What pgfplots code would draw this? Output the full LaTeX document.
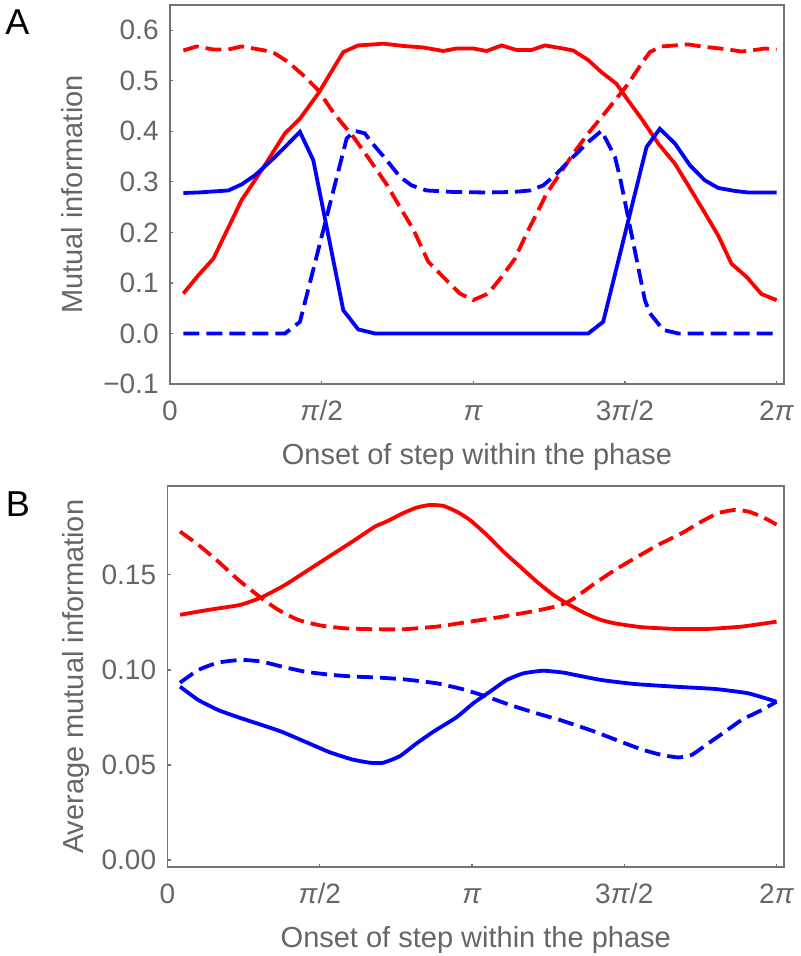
\documentclass[border=0pt]{standalone}
\usepackage{fontspec}
\setmainfont{Liberation Sans}
\usepackage{pgfplots}
\pgfplotsset{compat=1.18}
\definecolor{txtgray}{gray}{0.4}
\definecolor{framegray}{gray}{0.45}
\definecolor{mred}{rgb}{1,0,0}
\definecolor{mblue}{rgb}{0,0,1}

\pgfplotsset{
  panel/.style={
    scale only axis,
    xmin=0, xmax=6.36,
    axis line style={framegray, line width=0.9pt},
    tick style={framegray, line width=0.6pt},
    tick align=inside, tick pos=left, major tick length=1.5pt,
    xtick={0,1.5708,3.14159,4.71239,6.28319},
    xticklabels={0,\textit{π}/2,\textit{π},3\textit{π}/2,2\textit{π}},
    tick label style={font=\fontsize{14}{16}\selectfont, text=txtgray, inner sep=0pt},
    xticklabel style={anchor=base, yshift=-18pt},
    yticklabel style={anchor=east, xshift=-5.5pt},
    xlabel={Onset of step within the phase},
    every axis x label/.style={at={(axis description cs:0.5,0)}, anchor=base, yshift=-40pt,
      font=\fontsize{14.5}{17}\selectfont, text=txtgray, inner sep=0pt},
  },
  ylab/.style={every axis y label/.style={at={(axis description cs:#1,0.5)}, anchor=base, rotate=90,
      font=\fontsize{14.5}{17}\selectfont, text=txtgray, inner sep=0pt}},
  sol/.style={line width=1.9pt},
  dsh/.style={line width=1.9pt, dash pattern=on 8pt off 3.5pt},
}

\begin{document}
\begin{tikzpicture}
\useasboundingbox (0,0) rectangle (400pt,-478pt);

% panel A
\begin{axis}[panel,
  at={(85pt,-192pt)}, anchor=south west,
  width=307pt, height=189.5pt,
  ymin=-0.1, ymax=0.65,
  ytick={-0.1,0,0.1,0.2,0.3,0.4,0.5,0.6},
  yticklabels={−0.1,0.0,0.1,0.2,0.3,0.4,0.5,0.6},
  ylabel={Mutual information}, ylab=-0.1433,
]
% red solid
\addplot[sol, mred] coordinates {
(0.138,0.079) (0.293,0.115) (0.449,0.148) (0.742,0.264) (0.949,0.323) (1.191,0.396)
(1.346,0.425) (1.536,0.475) (1.795,0.557) (1.950,0.570) (2.106,0.572) (2.209,0.5735)
(2.416,0.569) (2.623,0.566) (2.830,0.559) (2.968,0.564) (3.141,0.564) (3.279,0.559)
(3.435,0.570) (3.590,0.561) (3.745,0.561) (3.883,0.570) (4.039,0.565) (4.177,0.560)
(4.332,0.541) (4.470,0.517) (4.625,0.494) (4.746,0.461) (4.884,0.425) (5.057,0.376)
(5.230,0.336) (5.368,0.293) (5.523,0.244) (5.678,0.194) (5.816,0.138) (5.972,0.112)
(6.127,0.078) (6.283,0.066)};
% red dashed
\addplot[dsh, mred] coordinates {
(0.138,0.560) (0.276,0.568) (0.449,0.562) (0.604,0.562) (0.742,0.568) (0.984,0.560)
(1.087,0.554) (1.225,0.537) (1.398,0.508) (1.536,0.481) (1.700,0.435) (1.900,0.389)
(2.071,0.343) (2.244,0.295) (2.382,0.250) (2.520,0.206) (2.675,0.142) (2.865,0.105)
(3.003,0.079) (3.141,0.066) (3.296,0.079) (3.435,0.112) (3.573,0.148) (3.694,0.198)
(3.797,0.237) (3.901,0.277) (4.039,0.316) (4.177,0.356) (4.332,0.396) (4.470,0.428)
(4.608,0.461) (4.746,0.494) (4.884,0.534) (4.971,0.557) (5.092,0.568) (5.230,0.570)
(5.368,0.572) (5.506,0.568) (5.644,0.565) (5.782,0.562) (5.920,0.558) (6.023,0.560)
(6.161,0.564) (6.283,0.562)};
% blue solid
\addplot[sol, mblue] coordinates {
(0.138,0.278) (0.293,0.279) (0.449,0.281) (0.604,0.283) (0.742,0.295) (0.880,0.313)
(1.053,0.343) (1.191,0.369) (1.346,0.399) (1.484,0.343) (1.795,0.046) (1.950,0.008)
(2.123,0) (4.332,0) (4.487,0.023) (4.936,0.369) (5.074,0.405) (5.230,0.376)
(5.385,0.333) (5.540,0.303) (5.678,0.288) (5.851,0.282) (5.989,0.279) (6.283,0.279)};
% blue dashed
\addplot[dsh, mblue] coordinates {
(0.138,0) (1.191,0) (1.346,0.023) (1.830,0.386) (1.916,0.401) (2.019,0.396)
(2.071,0.382) (2.244,0.343) (2.382,0.310) (2.503,0.293) (2.658,0.283) (2.934,0.280)
(3.279,0.279) (3.556,0.280) (3.728,0.283) (3.866,0.293) (4.004,0.316) (4.142,0.343)
(4.332,0.379) (4.470,0.401) (4.608,0.350) (4.660,0.310) (4.919,0.066) (4.971,0.040)
(5.109,0.007) (5.264,0) (6.283,0)};
\end{axis}

% panel B
\begin{axis}[panel,
  at={(83.75pt,-433.65pt)}, anchor=south west,
  width=308.25pt, height=190.5pt,
  ymin=-0.0038, ymax=0.1966,
  ytick={0,0.05,0.1,0.15},
  yticklabels={0.00,0.05,0.10,0.15},
  ylabel={Average mutual information}, ylab=-0.1363,
]
% red solid
\addplot[sol, mred, smooth, tension=0.3] coordinates {
(0.129,0.1290) (0.421,0.1316) (0.748,0.1342) (0.971,0.1382) (1.212,0.1447) (1.453,0.1526)
(1.693,0.1605) (1.934,0.1684) (2.140,0.1754) (2.261,0.1781) (2.432,0.1825) (2.570,0.1854)
(2.707,0.1868) (2.845,0.1863) (2.983,0.1833) (3.120,0.1789) (3.292,0.1711) (3.464,0.1623)
(3.636,0.1544) (3.808,0.1465) (3.980,0.1395) (4.120,0.1350) (4.300,0.1300) (4.460,0.1265)
(4.616,0.1245) (4.891,0.1225) (5.235,0.1216) (5.579,0.1216) (5.923,0.1228) (6.283,0.1254)};
% red dashed
\addplot[dsh, mred, smooth, tension=0.3] coordinates {
(0.129,0.1728) (0.318,0.1658) (0.524,0.1570) (0.731,0.1474) (0.971,0.1377) (1.143,0.1316)
(1.350,0.1263) (1.590,0.1233) (1.831,0.1219) (2.140,0.1214) (2.432,0.1214) (2.776,0.1228)
(3.120,0.1254) (3.464,0.1281) (3.808,0.1312) (4.014,0.1335) (4.120,0.1355) (4.203,0.1380)
(4.410,0.1456) (4.616,0.1526) (4.822,0.1588) (5.063,0.1658) (5.304,0.1719) (5.510,0.1781)
(5.682,0.1825) (5.854,0.1842) (5.992,0.1833) (6.129,0.1807) (6.283,0.1765)};
% blue solid
\addplot[sol, mblue, smooth, tension=0.3] coordinates {
(0.129,0.0912) (0.318,0.0842) (0.524,0.0789) (0.731,0.0751) (0.971,0.0711) (1.178,0.0675)
(1.418,0.0623) (1.659,0.0570) (1.900,0.0530) (2.089,0.0512) (2.226,0.0512) (2.398,0.0547)
(2.570,0.0614) (2.742,0.0675) (2.981,0.0751) (3.155,0.0825) (3.327,0.0886) (3.498,0.0947)
(3.670,0.0982) (3.876,0.0996) (4.083,0.0986) (4.203,0.0974) (4.478,0.0947) (4.822,0.0926)
(5.235,0.0912) (5.648,0.0900) (5.992,0.0877) (6.283,0.0833)};
% blue dashed
\addplot[dsh, mblue, smooth, tension=0.3] coordinates {
(0.129,0.0933) (0.318,0.1000) (0.524,0.1039) (0.765,0.1053) (0.971,0.1044) (1.178,0.1018)
(1.418,0.0991) (1.693,0.0974) (1.934,0.0965) (2.140,0.0961) (2.432,0.0951) (2.776,0.0930)
(3.051,0.0898) (3.292,0.0860) (3.533,0.0816) (3.808,0.0772) (4.048,0.0737) (4.203,0.0711)
(4.410,0.0675) (4.650,0.0628) (4.891,0.0582) (5.097,0.0553) (5.269,0.0540) (5.407,0.0553)
(5.579,0.0614) (5.751,0.0675) (5.923,0.0737) (6.129,0.0789) (6.283,0.0833)};
\end{axis}

\node[font=\fontsize{18}{20}\selectfont] at (8.75pt,-11pt) {A};
\node[font=\fontsize{18}{20}\selectfont] at (9pt,-252pt) {B};
\end{tikzpicture}
\end{document}
